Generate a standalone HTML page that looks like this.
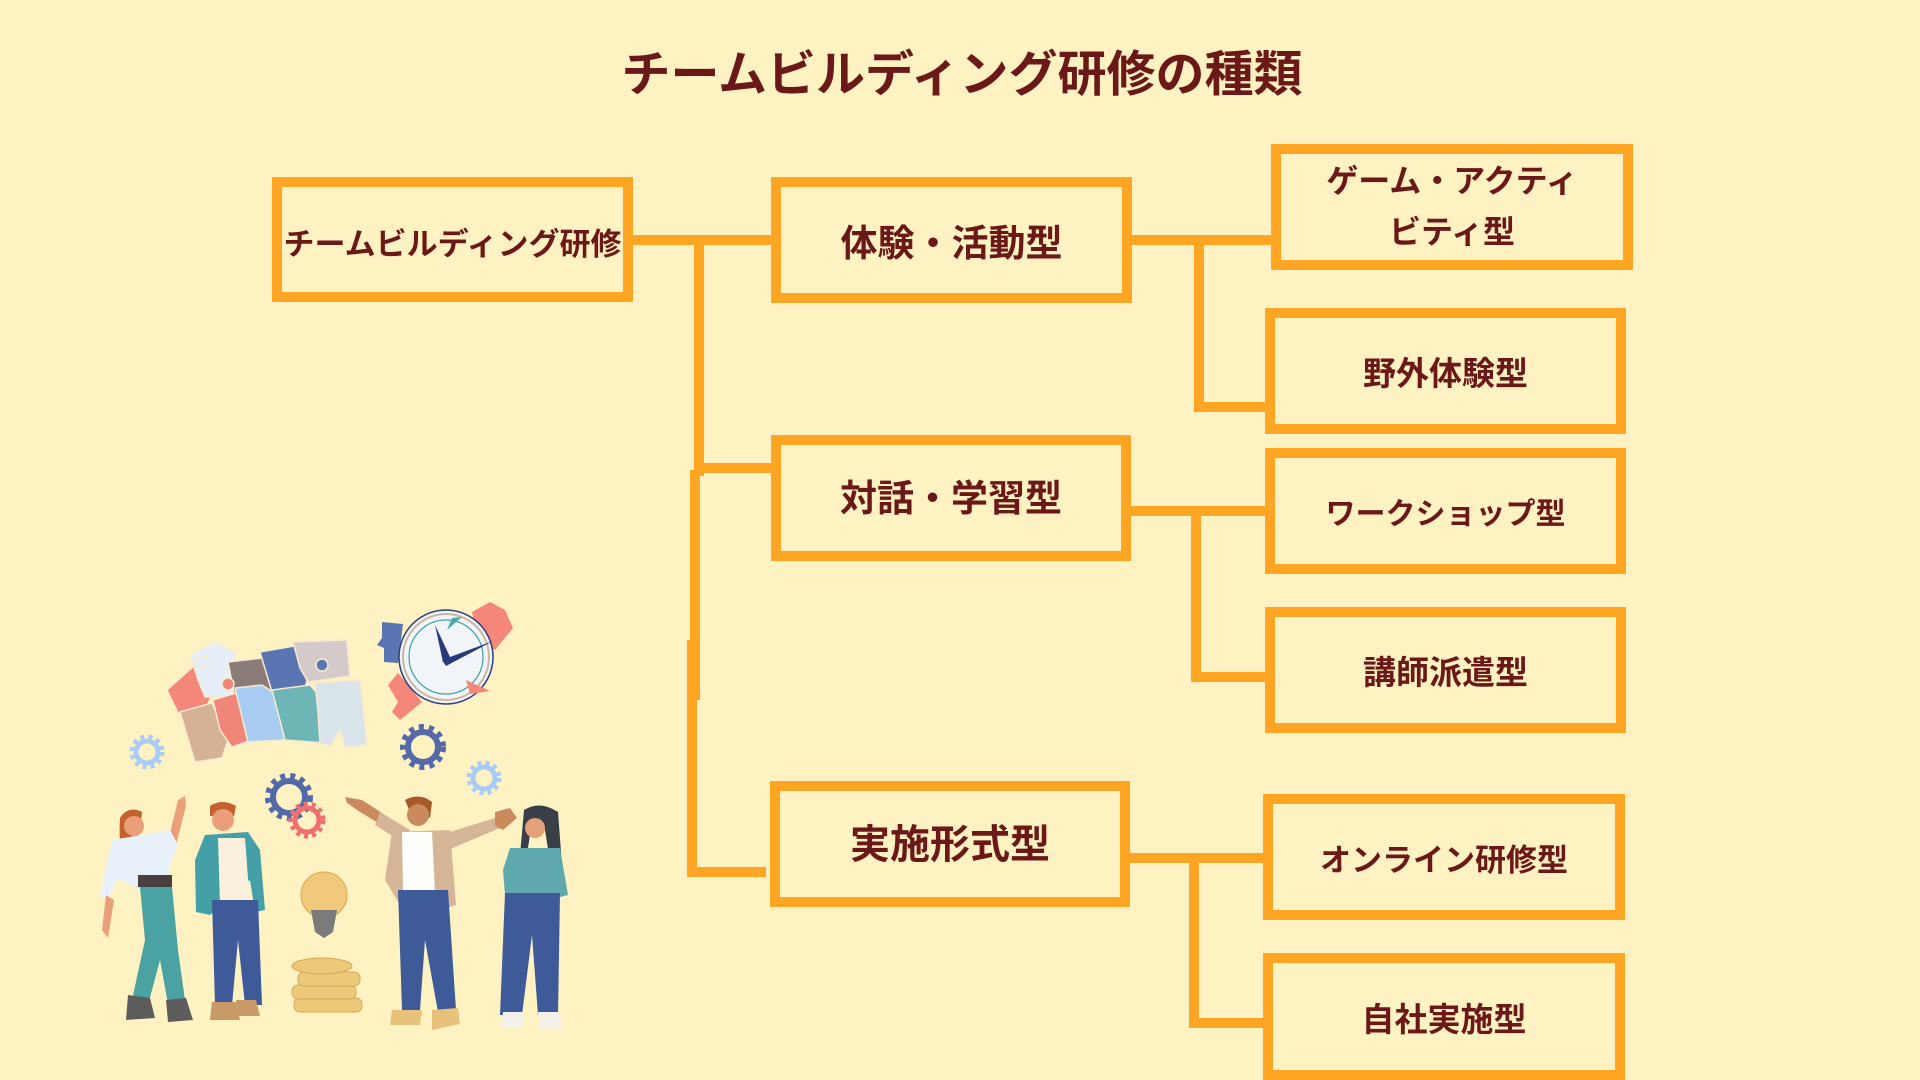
<!DOCTYPE html>
<html><head><meta charset="utf-8">
<style>
html,body{margin:0;padding:0}
body{width:1920px;height:1080px;background:#FFF2C2;position:relative;overflow:hidden;font-family:"Liberation Sans","Noto Sans CJK JP",sans-serif;}
.t{position:absolute;color:#6B1818;font-weight:700;white-space:nowrap;}
.box{position:absolute;box-sizing:border-box;border:10px solid #FFA524;display:flex;align-items:center;justify-content:center;color:#6B1818;font-weight:700;white-space:nowrap;text-align:center;}
.ln{position:absolute;background:#FFA524;}
svg{position:absolute;left:0;top:0}
</style></head><body>

<div class="t" style="left:0;width:1924px;top:48px;font-size:49px;line-height:54px;text-align:center;">チームビルディング研修の種類</div>

<!-- connectors -->
<div class="ln" style="left:630px;top:235px;width:145px;height:10px"></div>
<div class="ln" style="left:694px;top:236px;width:10px;height:240px"></div>
<div class="ln" style="left:690px;top:470px;width:10px;height:230px"></div>
<div class="ln" style="left:687px;top:640px;width:10px;height:237px"></div>
<div class="ln" style="left:695px;top:463px;width:77px;height:10px"></div>
<div class="ln" style="left:690px;top:867px;width:76px;height:10px"></div>

<div class="ln" style="left:1130px;top:235px;width:145px;height:10px"></div>
<div class="ln" style="left:1194px;top:240px;width:10px;height:171px"></div>
<div class="ln" style="left:1194px;top:402px;width:73px;height:10px"></div>

<div class="ln" style="left:1129px;top:506px;width:138px;height:10px"></div>
<div class="ln" style="left:1191px;top:506px;width:10px;height:176px"></div>
<div class="ln" style="left:1191px;top:672px;width:76px;height:10px"></div>

<div class="ln" style="left:1128px;top:853px;width:137px;height:10px"></div>
<div class="ln" style="left:1189px;top:853px;width:10px;height:175px"></div>
<div class="ln" style="left:1189px;top:1018px;width:76px;height:10px"></div>

<!-- boxes -->
<div class="box" style="left:272px;top:177px;width:361px;height:125px;font-size:31px;padding-top:4px">チームビルディング研修</div>
<div class="box" style="left:771px;top:177px;width:361px;height:126px;font-size:37px;">体験・活動型</div>
<div class="box" style="left:771px;top:435px;width:360px;height:126px;font-size:37px;padding-bottom:6px">対話・学習型</div>
<div class="box" style="left:770px;top:781px;width:360px;height:126px;font-size:40px;padding-bottom:6px">実施形式型</div>

<div class="box" style="left:1271px;top:144px;width:362px;height:126px;font-size:32px;line-height:51px;">ゲーム・アクティ<br>ビティ型</div>
<div class="box" style="left:1265px;top:308px;width:361px;height:126px;font-size:33px;">野外体験型</div>
<div class="box" style="left:1265px;top:448px;width:361px;height:126px;font-size:30px;">ワークショップ型</div>
<div class="box" style="left:1265px;top:607px;width:361px;height:126px;font-size:33px;">講師派遣型</div>
<div class="box" style="left:1263px;top:794px;width:362px;height:126px;font-size:31px;">オンライン研修型</div>
<div class="box" style="left:1263px;top:953px;width:362px;height:127px;font-size:33px;">自社実施型</div>

<!-- illustration -->
<svg width="1920" height="1080" viewBox="0 0 1920 1080">
  <!-- puzzle -->
  <g stroke="#F6EAD0" stroke-width="1.5">
    <polygon points="167,690 195,665 213,690 205,713 178,713" fill="#F4877A"/>
    <polygon points="190,655 215,642 235,652 232,697 205,697 198,680" fill="#E6EFF7"/>
    <polygon points="228,662 262,658 275,668 270,698 235,698" fill="#8B7B79"/>
    <polygon points="260,652 300,645 312,660 305,688 272,692" fill="#5B74B2"/>
    <polygon points="293,642 347,640 350,676 308,682 300,668" fill="#D5CACA"/>
    <polygon points="180,712 212,703 228,740 222,758 195,762" fill="#D5B293"/>
    <polygon points="213,700 236,693 252,740 232,747 220,730" fill="#F0857A"/>
    <polygon points="235,688 262,685 285,700 285,740 248,742" fill="#A9CDF2"/>
    <polygon points="272,690 310,685 327,705 325,743 285,740" fill="#6DB6B5"/>
    <polygon points="315,683 360,680 367,745 345,747 340,730 330,746 320,743 318,712" fill="#D9E3EA"/>
    <circle cx="202" cy="662" r="6" fill="#E6EFF7"/>
    <circle cx="228" cy="684" r="6" fill="#F0857A"/>
    <circle cx="322" cy="665" r="6" fill="#5B74B2"/>
  </g>
  <!-- clock puzzle -->
  <polygon points="382,622 403,624 398,663 384,662 384,648 377,645 382,638" fill="#5B74B2"/>
  <polygon points="472,612 490,602 505,610 513,628 495,650 478,640" fill="#F4877A"/>
  <polygon points="388,685 398,673 422,702 410,712 400,720 392,712 398,702" fill="#F4877A"/>
  <!-- clock -->
  <circle cx="446" cy="657" r="47" fill="#F1F4F8" stroke="#2E3C7A" stroke-width="1.5"/>
  <circle cx="446" cy="657" r="43" fill="none" stroke="#C9B8A0" stroke-width="2"/>
  <circle cx="446" cy="657" r="37" fill="none" stroke="#3AA3A3" stroke-width="1.2"/>
  <polygon points="435,625 450,657 443,662" fill="#26397A"/>
  <polygon points="442,660 493,641 446,666" fill="#26397A"/>
  <polygon points="447,630 452,618 462,617" fill="#4AA9A6"/>
  <polygon points="466,680 490,691 470,694" fill="#F4877A"/>
  <!-- gears -->
  <g fill="none">
    <circle cx="147" cy="752" r="11" stroke="#A8CCF5" stroke-width="5"/>
    <circle cx="147" cy="752" r="15" stroke="#A8CCF5" stroke-width="5" stroke-dasharray="4 4"/>
    <circle cx="423" cy="747" r="15" stroke="#5469A8" stroke-width="6"/>
    <circle cx="423" cy="747" r="20" stroke="#5469A8" stroke-width="6" stroke-dasharray="5 5"/>
    <circle cx="484" cy="778" r="11" stroke="#A8CCF5" stroke-width="5"/>
    <circle cx="484" cy="778" r="15" stroke="#A8CCF5" stroke-width="5" stroke-dasharray="4 4"/>
    <circle cx="289" cy="797" r="16" stroke="#5469A8" stroke-width="6"/>
    <circle cx="289" cy="797" r="21" stroke="#5469A8" stroke-width="6" stroke-dasharray="5 5"/>
    <circle cx="307" cy="820" r="12" stroke="#EF6F6F" stroke-width="5"/>
    <circle cx="307" cy="820" r="16" stroke="#EF6F6F" stroke-width="5" stroke-dasharray="4 4"/>
  </g>
  <!-- person 1 -->
  <g>
    <path d="M168,842 L178,800 L185,796 L186,806 L176,845 Z" fill="#E9A07A"/>
    <path d="M120,818 Q128,805 142,812 L140,830 Q134,850 140,870 L126,875 Q118,850 120,818 Z" fill="#C4622D"/>
    <circle cx="134" cy="826" r="10" fill="#E9A07A"/>
    <path d="M112,840 L170,830 L178,845 L168,870 L172,888 L140,890 L118,878 L108,900 L100,895 Z" fill="#E8F0FA"/>
    <path d="M106,895 L102,930 L108,938 L114,900 Z" fill="#E9A07A"/>
    <rect x="138" y="875" width="34" height="12" fill="#4A3F3F"/>
    <path d="M140,887 L172,887 L178,950 L185,1000 L168,1004 L160,960 L148,1005 L132,1000 L145,940 Z" fill="#4AA3A2"/>
    <path d="M128,995 L150,998 L155,1018 L126,1020 Z" fill="#5C5C5C"/>
    <path d="M166,1000 L186,998 L193,1020 L168,1022 Z" fill="#5C5C5C"/>
  </g>
  <!-- person 2 -->
  <g>
    <path d="M210,806 Q222,798 236,806 L234,816 L210,816 Z" fill="#C4622D"/>
    <circle cx="223" cy="820" r="11" fill="#E9A07A"/>
    <path d="M205,835 L248,832 L260,850 L265,910 L255,912 L250,880 L210,915 L196,912 L195,860 Z" fill="#44A0A6"/>
    <path d="M218,838 L245,838 L250,905 L220,905 Z" fill="#FBF0DC"/>
    <path d="M212,900 L258,900 L262,1005 L245,1005 L238,940 L232,1005 L215,1005 Z" fill="#3F5A98"/>
    <path d="M212,1002 L236,1002 L240,1020 L210,1020 Z" fill="#C89A6A"/>
    <path d="M236,1000 L256,1000 L260,1016 L238,1016 Z" fill="#C89A6A"/>
  </g>
  <!-- bulb & coins -->
  <circle cx="324" cy="895" r="23" fill="#F1C97A" stroke="#D9A655" stroke-width="1"/>
  <path d="M311,910 L337,910 L333,932 L324,938 L315,932 Z" fill="#7B7B7B"/>
  <g fill="#EDC97A" stroke="#D4A955" stroke-width="1">
    <rect x="294" y="998" width="68" height="14" rx="6"/>
    <rect x="292" y="985" width="64" height="14" rx="6"/>
    <rect x="298" y="972" width="62" height="14" rx="6"/>
    <ellipse cx="322" cy="966" rx="30" ry="8"/>
  </g>
  <!-- person 3 -->
  <g>
    <path d="M345,797 L362,800 L385,815 L380,824 L360,812 L347,803 Z" fill="#C98A5E"/>
    <path d="M380,812 L410,830 L402,842 L375,825 Z" fill="#D4B697"/>
    <path d="M440,835 L495,818 L500,828 L448,850 Z" fill="#D4B697"/>
    <path d="M495,812 L510,808 L517,818 L503,830 L495,826 Z" fill="#C98A5E"/>
    <path d="M405,800 Q420,792 432,802 L430,818 L410,812 Z" fill="#A65A28"/>
    <circle cx="418" cy="815" r="11" fill="#C98A5E"/>
    <path d="M392,832 L450,830 L456,905 L440,910 L400,905 L385,880 Z" fill="#D4B697"/>
    <path d="M402,832 L432,832 L435,893 L403,893 Z" fill="#FDFDFB"/>
    <path d="M398,890 L448,890 L456,1010 L438,1012 L425,940 L420,1010 L402,1010 Z" fill="#3F5A98"/>
    <path d="M392,1010 L422,1010 L420,1025 L390,1025 Z" fill="#E8C27A"/>
    <path d="M432,1010 L458,1008 L460,1024 L432,1030 Z" fill="#E8C27A"/>
  </g>
  <!-- person 4 -->
  <g>
    <path d="M524,810 Q540,800 558,812 L562,865 L550,862 L545,830 L530,835 L526,860 L520,855 Z" fill="#3A3F47"/>
    <circle cx="535" cy="828" r="10" fill="#E4A07A"/>
    <path d="M510,848 L560,848 L568,895 L540,902 L505,895 L503,870 Z" fill="#5FA9AE"/>
    <path d="M505,893 L560,893 L558,1015 L538,1015 L532,935 L522,1015 L500,1015 Z" fill="#3F5A98"/>
    <path d="M503,1012 L524,1012 L522,1028 L502,1028 Z" fill="#F4F1EA"/>
    <path d="M538,1012 L560,1012 L562,1030 L540,1030 Z" fill="#F4F1EA"/>
  </g>
</svg>
</body></html>
